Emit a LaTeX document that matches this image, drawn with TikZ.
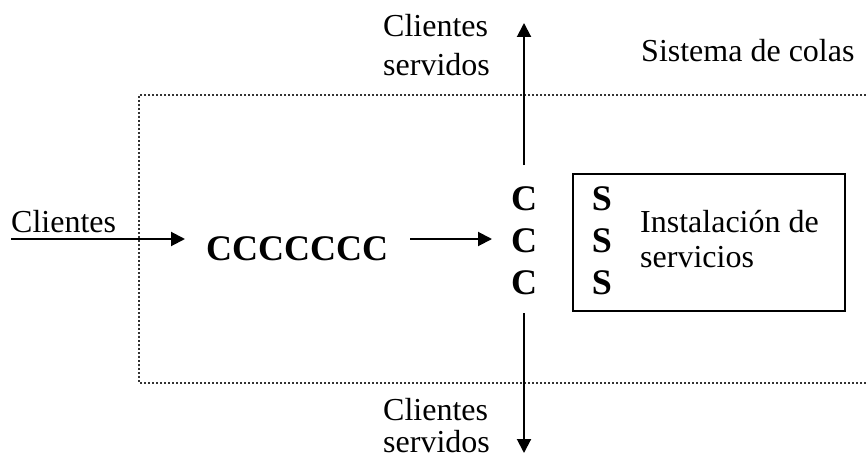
\documentclass[tikz,border=0pt]{standalone}
\usepackage{fontspec}
\setmainfont{Liberation Serif}
\usetikzlibrary{arrows.meta}
\begin{document}
\begin{tikzpicture}[x=1pt,y=-1pt,
  txt/.style={inner sep=0pt, anchor=base west, font=\fontsize{32}{37}\selectfont},
  bold/.style={inner sep=0pt, anchor=base, font=\fontsize{36}{40}\selectfont\bfseries},
  arr/.style={line width=2pt, -{Triangle[length=14pt,width=14pt]}},
  dotline/.style={line width=2pt, dash pattern=on 2pt off 2pt, black!80}]
\useasboundingbox (0,0) rectangle (866,460);
% dotted system boundary (open to the right)
\draw[dotline] (866,95) -- (139,95) -- (139,383) -- (866,383);
% service box
\node[draw, line width=2pt, inner sep=0pt, minimum width=272pt, minimum height=137pt, anchor=north west] (box) at (572,173) {};
% texts
\node[txt] (clin) at (11,232) {Clientes};
\node[txt] (top1) at (383,37) {Clientes};
\node[txt] (top2) at (383,75) {servidos};
\node[txt] (bot1) at (383,420) {Clientes};
\node[txt] (bot2) at (383,452) {servidos};
\node[txt] (sis) at (641,62) {Sistema de colas};
\node[txt] (ins1) at (640,232) {Instalación de};
\node[txt] (ins2) at (640,267) {servicios};
\node[bold, anchor=base west] (queue) at (206,260) {CCCCCCC};
\node[bold] (c1) at (524,210) {C};
\node[bold] (c2) at (524,252) {C};
\node[bold] (c3) at (524,294) {C};
\node[bold] (s1) at (602,210) {S};
\node[bold] (s2) at (602,252) {S};
\node[bold] (s3) at (602,294) {S};
% connector end points
\coordinate (inA) at (11,239);
\coordinate (inB) at (185,239);
\coordinate (midA) at (410,239);
\coordinate (midB) at (492,239);
\coordinate (upA) at (524,165);
\coordinate (upB) at (524,23);
\coordinate (dnA) at (524,313);
\coordinate (dnB) at (524,453);
\draw[arr] (inA) -- (inB);
\draw[arr] (midA) -- (midB);
\draw[arr] (upA) -- (upB);
\draw[arr] (dnA) -- (dnB);
\end{tikzpicture}
\end{document}
